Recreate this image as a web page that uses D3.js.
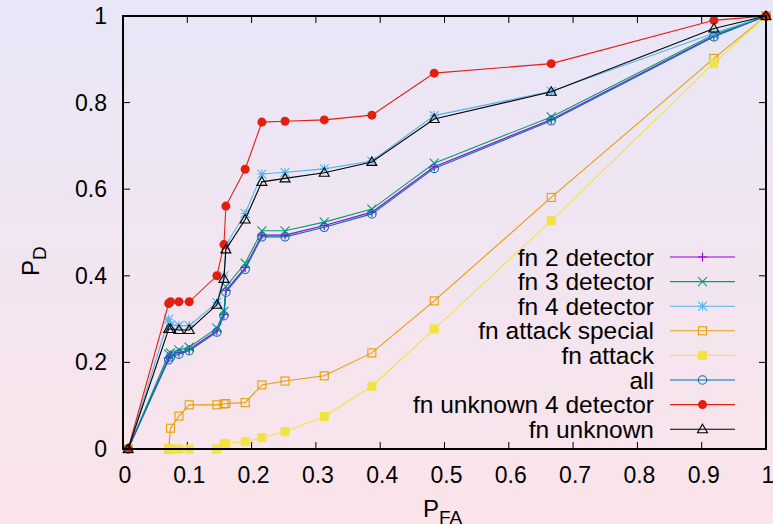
<!DOCTYPE html>
<html>
<head>
<meta charset="utf-8">
<script src="https://cdn.jsdelivr.net/npm/d3@7"></script>
<style>
  html, body { margin: 0; padding: 0; }
  body { width: 773px; height: 524px; overflow: hidden; }
  text { font-family: "Liberation Sans", Arial, sans-serif; fill: #000; }
</style>
</head>
<body>
<script>
// false alarm probability, shared by all curves
var pfa = [0.008, 0.071, 0.074, 0.087, 0.103, 0.146, 0.157, 0.160, 0.190, 0.216, 0.252, 0.313, 0.387, 0.484, 0.666, 0.919, 1.0];

var fn2      = [0, 0.210, 0.217, 0.223, 0.230, 0.273, 0.311, 0.366, 0.419, 0.494, 0.494, 0.516, 0.547, 0.652, 0.761, 0.954, 1];
var fn3      = [0, 0.219, 0.222, 0.229, 0.235, 0.279, 0.318, 0.375, 0.429, 0.504, 0.504, 0.524, 0.554, 0.660, 0.767, 0.957, 1];
var fn4      = [0, 0.300, 0.287, 0.285, 0.285, 0.338, 0.400, 0.471, 0.544, 0.635, 0.639, 0.647, 0.665, 0.770, 0.826, 0.960, 1];
var fnAttSp  = [0, 0, 0.048, 0.076, 0.102, 0.102, 0.104, 0.105, 0.107, 0.148, 0.157, 0.169, 0.222, 0.342, 0.581, 0.902, 1];
var fnAtt    = [0, 0, 0, 0, 0, 0, 0.011, 0.013, 0.017, 0.026, 0.040, 0.075, 0.145, 0.277, 0.527, 0.891, 1];
var allDet   = [0, 0.206, 0.213, 0.219, 0.227, 0.270, 0.308, 0.362, 0.415, 0.490, 0.490, 0.512, 0.543, 0.648, 0.758, 0.952, 1];
var fnUnk4   = [0, 0.336, 0.340, 0.340, 0.340, 0.400, 0.472, 0.561, 0.646, 0.755, 0.757, 0.760, 0.771, 0.868, 0.890, 0.990, 1];
var fnUnk    = [0, 0.277, 0.277, 0.275, 0.275, 0.333, 0.393, 0.461, 0.530, 0.617, 0.625, 0.638, 0.663, 0.762, 0.825, 0.971, 1];

var names = ["fn 2 detector", "fn 3 detector", "fn 4 detector", "fn attack special",
             "fn attack", "all", "fn unknown 4 detector", "fn unknown"];
var xTicks = [0, 0.1, 0.2, 0.3, 0.4, 0.5, 0.6, 0.7, 0.8, 0.9, 1];
var yTicks = [0, 0.2, 0.4, 0.6, 0.8, 1];

var series = [
  {name: names[0], values: fn2,     color: "#9400d3", pt: "plus"},
  {name: names[1], values: fn3,     color: "#009e73", pt: "cross"},
  {name: names[2], values: fn4,     color: "#56b4e9", pt: "star"},
  {name: names[3], values: fnAttSp, color: "#e69f00", pt: "square"},
  {name: names[4], values: fnAtt,   color: "#f0e442", pt: "fsquare"},
  {name: names[5], values: allDet,  color: "#0072b2", pt: "circle"},
  {name: names[6], values: fnUnk4,  color: "#e51e10", pt: "fcircle"},
  {name: names[7], values: fnUnk,   color: "#000000", pt: "triangle"}
];

var W = 773, H = 524;
var pLeft = 123, pRight = 766, pTop = 16, pBottom = 449;

var x = d3.scaleLinear().domain([0, 1]).range([pLeft, pRight]);
var y = d3.scaleLinear().domain([0, 1]).range([pBottom, pTop]);

var svg = d3.select("body").append("svg")
    .attr("width", W)
    .attr("height", H);

// background gradient
var grad = svg.append("defs").append("linearGradient")
    .attr("id", "bg")
    .attr("x1", 0).attr("y1", 0).attr("x2", 0).attr("y2", 1);
grad.append("stop").attr("offset", "0%").attr("stop-color", "#e8e6f7");
grad.append("stop").attr("offset", "100%").attr("stop-color", "#fbe4ea");
svg.append("rect").attr("width", W).attr("height", H).attr("fill", "url(#bg)");

// ticks (mirrored, pointing inwards)
var tl = 7;
var ax = svg.append("g").attr("stroke", "#000").attr("stroke-width", 1);
xTicks.forEach(function(t) {
  ax.append("line").attr("x1", x(t)).attr("x2", x(t)).attr("y1", pBottom).attr("y2", pBottom - tl);
  ax.append("line").attr("x1", x(t)).attr("x2", x(t)).attr("y1", pTop).attr("y2", pTop + tl);
});
yTicks.forEach(function(t) {
  ax.append("line").attr("y1", y(t)).attr("y2", y(t)).attr("x1", pLeft).attr("x2", pLeft + tl);
  ax.append("line").attr("y1", y(t)).attr("y2", y(t)).attr("x1", pRight).attr("x2", pRight - tl);
});

// tick labels
svg.append("g").selectAll("text").data(xTicks).enter().append("text")
    .attr("x", function(d) { return x(d) + 2; })
    .attr("y", 483)
    .attr("text-anchor", "middle")
    .attr("font-size", "23px")
    .text(function(d) { return d3.format("")(d); });
svg.append("g").selectAll("text").data(yTicks).enter().append("text")
    .attr("x", 107)
    .attr("y", function(d) { return y(d) + 8; })
    .attr("text-anchor", "end")
    .attr("font-size", "23px")
    .text(function(d) { return d3.format("")(d); });

// axis titles
var xl = svg.append("text")
    .attr("x", 423).attr("y", 517)
    .attr("font-size", "24px");
xl.append("tspan").text("P");
xl.append("tspan").attr("font-size", "19px").attr("dy", 7).text("FA");

var yl = svg.append("text")
    .attr("transform", "translate(39,276) rotate(-90)")
    .attr("font-size", "24px");
yl.append("tspan").text("P");
yl.append("tspan").attr("font-size", "19px").attr("dy", 7).text("D");

// markers
function marker(g, type, cx, cy, color) {
  var s = 4.5;
  if (type === "plus") {
    g.append("path").attr("d", "M" + (cx - s) + "," + cy + "h" + 2 * s + "M" + cx + "," + (cy - s) + "v" + 2 * s)
      .attr("stroke", color).attr("fill", "none");
  } else if (type === "cross") {
    g.append("path").attr("d", "M" + (cx - s) + "," + (cy - s) + "l" + 2 * s + "," + 2 * s + "M" + (cx - s) + "," + (cy + s) + "l" + 2 * s + "," + (-2 * s))
      .attr("stroke", color).attr("fill", "none");
  } else if (type === "star") {
    g.append("path").attr("d", "M" + (cx - s) + "," + cy + "h" + 2 * s + "M" + cx + "," + (cy - s) + "v" + 2 * s +
        "M" + (cx - s) + "," + (cy - s) + "l" + 2 * s + "," + 2 * s + "M" + (cx - s) + "," + (cy + s) + "l" + 2 * s + "," + (-2 * s))
      .attr("stroke", color).attr("fill", "none");
  } else if (type === "square") {
    g.append("rect").attr("x", cx - 4).attr("y", cy - 4).attr("width", 8).attr("height", 8)
      .attr("stroke", color).attr("fill", "none");
  } else if (type === "fsquare") {
    g.append("rect").attr("x", cx - 4.5).attr("y", cy - 4.5).attr("width", 9).attr("height", 9)
      .attr("fill", color);
  } else if (type === "circle") {
    g.append("circle").attr("cx", cx).attr("cy", cy).attr("r", 4.2)
      .attr("stroke", color).attr("fill", "none");
  } else if (type === "fcircle") {
    g.append("circle").attr("cx", cx).attr("cy", cy).attr("r", 4.5)
      .attr("fill", color);
  } else if (type === "triangle") {
    g.append("path").attr("d", "M" + cx + "," + (cy - 5) + "L" + (cx + 5) + "," + (cy + 3.5) + "L" + (cx - 5) + "," + (cy + 3.5) + "Z")
      .attr("stroke", color).attr("fill", "none");
  }
}

var line = d3.line()
    .x(function(d) { return x(d[0]); })
    .y(function(d) { return y(d[1]); });

var plot = svg.append("g");
series.forEach(function(s) {
  var pts = pfa.map(function(p, i) { return [p, s.values[i]]; });
  var g = plot.append("g").attr("stroke-width", 1.1);
  g.append("path")
    .attr("d", line(pts))
    .attr("fill", "none")
    .attr("stroke", s.color)
    .attr("stroke-width", 1.1);
  pts.forEach(function(d) { marker(g, s.pt, x(d[0]), y(d[1]), s.color); });
});

// legend
var lg = svg.append("g");
series.forEach(function(s, i) {
  var ly = 257 + i * 24.6;
  lg.append("text")
    .attr("x", 654).attr("y", ly + 8.5)
    .attr("text-anchor", "end")
    .attr("font-size", "24.5px")
    .text(s.name);
  var g = lg.append("g").attr("stroke-width", 1.1);
  g.append("line")
    .attr("x1", 670).attr("x2", 735).attr("y1", ly).attr("y2", ly)
    .attr("stroke", s.color).attr("stroke-width", 1.1);
  marker(g, s.pt, 702.5, ly, s.color);
});

// border
svg.append("rect")
    .attr("x", pLeft).attr("y", pTop)
    .attr("width", pRight - pLeft).attr("height", pBottom - pTop)
    .attr("fill", "none").attr("stroke", "#000").attr("stroke-width", 2);
</script>
</body>
</html>
